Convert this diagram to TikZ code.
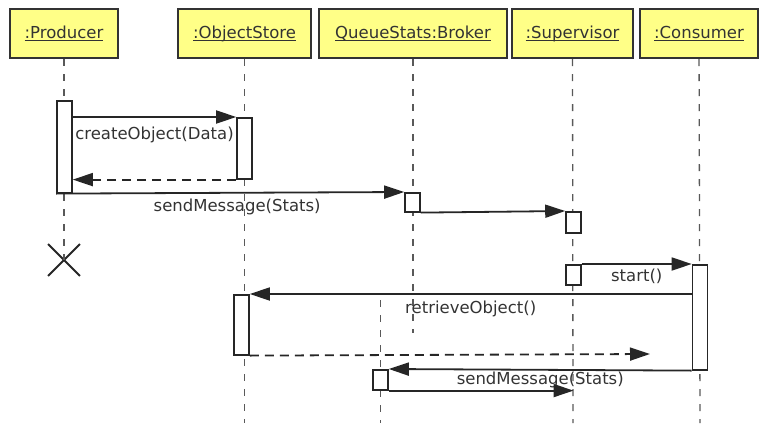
\documentclass[tikz,border=0pt]{standalone}
\usepackage{fontspec}
\setmainfont{DejaVu Sans}
\usetikzlibrary{arrows.meta,shapes.misc}
\definecolor{notebox}{RGB}{255,255,135}
\newcommand{\objfont}{\fontsize{16.5}{19}\selectfont}
% underline at a fixed height, descenders ignored
\newcommand{\objname}[1]{\underline{\raisebox{0pt}[\height][0pt]{#1}}}
\tikzset{
    %Define standard arrow tip
    >={Triangle[length=20pt,width=13pt]},
    %Define style for object boxes
    object/.style={
           rectangle,
           draw=black!80, line width=2.4pt,
           fill=notebox,
           minimum height=49pt,
           inner sep=0pt,
           font=\objfont,
           text=black!80,
           text centered},
    %Define style for activation bars
    bar/.style={
           rectangle,
           draw=black!85, line width=1.6pt,
           fill=white,
           minimum width=15pt,
           inner sep=0pt,
           anchor=north},
    % Define line styles
    lifeline/.style={
           draw=black!65, line width=1.3pt,
           dash pattern=on 7pt off 8pt},
    msg/.style={
           ->, draw=black!85, line width=1.8pt},
    reply/.style={
           ->, draw=black!85, line width=1.8pt,
           dash pattern=on 9pt off 6pt},
    lbl/.style={
           font=\objfont, text=black!80, inner sep=0pt}
}
\begin{document}
\begin{tikzpicture}[x=1pt,y=-1pt]
\useasboundingbox (0,0) rectangle (759,423);
 %objects
\node[object, minimum width=108pt](prod) at (64,33.5){\objname{:Producer}};
\node[object, minimum width=133pt](store) at (244.5,33.5){\objname{:ObjectStore}};
\node[object, minimum width=188pt](brok) at (413,33.5){\objname{QueueStats:Broker}};
\node[object, minimum width=121pt](sup) at (572.5,33.5){\objname{:Supervisor}};
\node[object, minimum width=118pt](cons) at (699,33.5){\objname{:Consumer}};
 %end of the lifelines
\node[cross out, draw=black!85, line width=1.8pt, minimum size=30pt](prodX) at (64,260){};
\coordinate (storeEnd) at (244.5,423);
\coordinate (brokEnd) at (413,333);
\coordinate (brokTop2) at (380.5,300);
\coordinate (brokEnd2) at (380.5,423);
\coordinate (supEnd) at (573,423);
\coordinate (consEnd) at (700,423);
\coordinate (retEnd) at (650,354);
 %lifelines
\draw[lifeline] (prod) -- (prodX.center);
\draw[lifeline] (store) -- (storeEnd);
\draw[lifeline] (brok) -- (brokEnd);
\draw[lifeline] (brokTop2) -- (brokEnd2);
\draw[lifeline] (sup) -- (supEnd);
\draw[lifeline] (cons) -- (consEnd);
 %activations
\node[bar, minimum height=92pt](prodA) at (64.5,100){};
\node[bar, minimum height=61pt](storeA) at (244.5,117){};
\node[bar, minimum height=19pt](brokA) at (412.5,192){};
\node[bar, minimum height=21pt](supA) at (573.5,211){};
\node[bar, minimum height=20pt](supB) at (573.5,264){};
\node[bar, minimum height=105pt](consA) at (700,264){};
\node[bar, minimum height=60pt](storeB) at (241.5,294){};
\node[bar, minimum height=20pt](brokB) at (380.5,369){};
 %messages
\draw[msg] (prodA.east |- storeA.north) -- (storeA.north west)
    node[lbl, midway, below=9pt]{createObject(Data)};
\draw[reply] (storeA.south west) -- (prodA.east |- storeA.south);
\draw[msg] (prodA.south west) -- (brokA.north west)
    node[lbl, pos=0.52, below=5pt]{sendMessage(Stats)};
\draw[msg] (brokA.south east) -- (supA.north west);
\draw[msg] (supB.north east) -- (consA.north west)
    node[lbl, midway, below=4pt]{start()};
\draw[msg] (consA.west |- storeB.north) -- (storeB.north east)
    node[lbl, midway, below=6pt]{retrieveObject()};
\draw[reply] (storeB.south east) -- (retEnd);
\draw[msg] (consA.south west) -- (brokB.north east)
    node[lbl, midway, below=1pt]{sendMessage(Stats)};
\draw[msg] (brokB.south east) -- (brokB.south east -| supB);
\end{tikzpicture}
\end{document}
